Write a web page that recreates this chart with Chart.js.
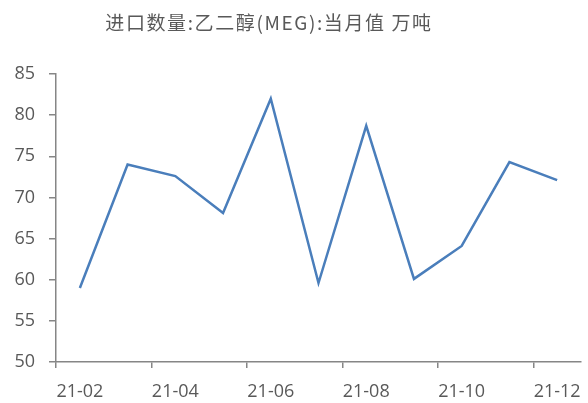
<!DOCTYPE html>
<html lang="zh-CN">
<head>
  <meta charset="UTF-8">
  <title>进口数量:乙二醇(MEG):当月值 万吨</title>
  <script src="https://cdn.jsdelivr.net/npm/chart.js"></script>
  <style>
    html, body { margin: 0; padding: 0; background: #fff; }
    #wrap { position: relative; width: 588px; height: 403px; }
    #titulo {
      position: absolute; top: 8px; left: 269px; transform: translateX(-50%);
      white-space: nowrap; font-family: "Noto Sans CJK SC", serif; font-size: 19px;
      color: #595959; letter-spacing: 1.6px;
    }
  </style>
</head>
<body>
  <div id="wrap">
    <div id="titulo">进口数量:乙二醇(MEG):当月值 万吨</div>
    <canvas id="grafico" width="588" height="403"></canvas>
  </div>

  <script>
    // dados
    const meses = ['21-02', '21-03', '21-04', '21-05', '21-06', '21-07', '21-08', '21-09', '21-10', '21-11', '21-12'];
    const valores = [59.0, 74.0, 72.6, 68.1, 82.0, 59.6, 78.7, 60.1, 64.1, 74.3, 72.1];
    const yMin = 50, yMax = 85, yPasso = 5;

    const cinza = '#595959';
    const linhaEixo = '#868686';
    const fonteTick = { family: '"Open Sans", "DejaVu Sans", sans-serif', size: 18 };

    const ctx = document.getElementById('grafico').getContext('2d');
    new Chart(ctx, {
      type: 'line',
      data: {
        labels: meses,
        datasets: [{
          data: valores,
          borderColor: '#4a7ebb',
          borderWidth: 2.5,
          pointRadius: 0,
          tension: 0,
          fill: false
        }]
      },
      options: {
        responsive: false,
        animation: false,
        layout: { padding: { top: 74, right: 7, left: 0, bottom: 0 } },
        plugins: { legend: { display: false }, title: { display: false }, tooltip: { enabled: false } },
        scales: {
          x: {
            offset: true,
            border: { color: linhaEixo, width: 1.5 },
            grid: {
              offset: true,
              drawOnChartArea: false,
              drawTicks: true,
              tickLength: 6,
              lineWidth: 1.5,
              color: c => (c.index !== undefined && c.index % 2 === 0) ? linhaEixo : 'rgba(0,0,0,0)'
            },
            ticks: {
              autoSkip: false,
              maxRotation: 0,
              color: cinza,
              font: fonteTick,
              padding: 13,
              callback: (v, i) => i % 2 === 0 ? meses[i] : ''
            },
            afterFit: s => { s.height = 41; s.paddingLeft = 0; s.paddingRight = 0; }
          },
          y: {
            min: yMin,
            max: yMax,
            border: { color: linhaEixo, width: 1.5 },
            grid: { drawOnChartArea: false, drawTicks: true, tickLength: 7, lineWidth: 1.5, color: linhaEixo },
            ticks: { stepSize: yPasso, color: cinza, font: fonteTick, padding: 14 },
            afterFit: s => { s.width = 56; s.paddingTop = 0; s.paddingBottom = 0; }
          }
        }
      }
    });
  </script>
</body>
</html>
